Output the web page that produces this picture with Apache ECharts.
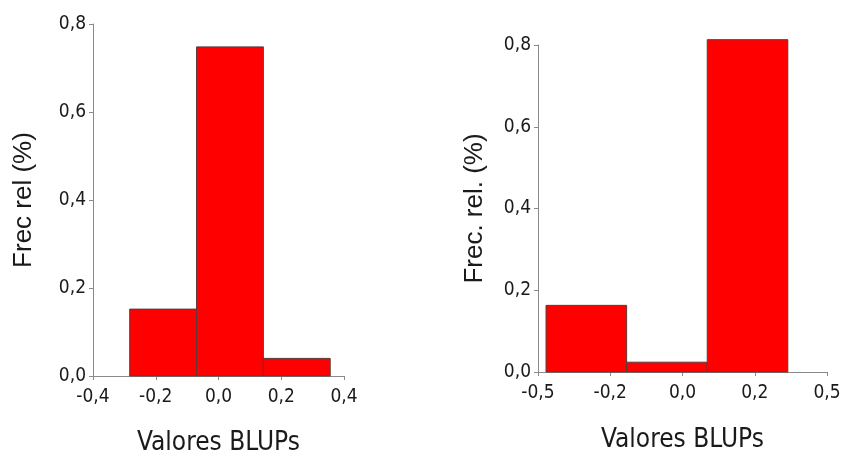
<!DOCTYPE html>
<html>
<head>
<meta charset="utf-8">
<script src="https://cdn.jsdelivr.net/npm/echarts@6/dist/echarts.min.js"></script>
<style>
  html, body { margin: 0; padding: 0; background: #fff; }
  #chart { width: 842px; height: 454px; }
</style>
</head>
<body>
<div id="chart"></div>
<script>
// Histogram of BLUP values: bin edges and relative frequency per bin
const leftBinEdges = [-0.283, -0.070, 0.143, 0.356];
const leftFreq = [0.152, 0.748, 0.040];
const rightBinEdges = [-0.425, -0.174, 0.077, 0.328];
const rightFreq = [0.163, 0.024, 0.813];

// Axis tick labels
const leftXLabels = ['-0,4', '-0,2', '0,0', '0,2', '0,4'];
const rightXLabels = ['-0,5', '-0,2', '0,0', '0,2', '0,5'];
const yLabels = ['0,0', '0,2', '0,4', '0,6', '0,8'];

const xTitle = 'Valores BLUPs';
const leftYTitle = 'Frec rel (%)';
const rightYTitle = 'Frec. rel. (%)';

function bins(edges, freq) {
  return freq.map((f, i) => [edges[i], edges[i + 1], f]);
}

const narrow = '"Liberation Sans Narrow", "Arial Narrow", "DejaVu Sans Condensed", sans-serif';
const regular = '"Liberation Sans", Arial, sans-serif';
const textColor = '#1a1a1a';
const axisGray = '#8a8a8a';

function renderBin(params, api) {
  const topLeft = api.coord([api.value(0), api.value(2)]);
  const bottomRight = api.coord([api.value(1), 0]);
  return {
    type: 'rect',
    shape: {
      x: topLeft[0],
      y: topLeft[1],
      width: bottomRight[0] - topLeft[0],
      height: bottomRight[1] - topLeft[1]
    },
    style: { fill: '#ff0000', stroke: '#5a3a3a', lineWidth: 1 }
  };
}

function xAxis(gridIndex, min, max, interval, labels, gap) {
  return {
    type: 'value', gridIndex, min, max, interval,
    name: xTitle, nameLocation: 'middle', nameGap: gap,
    nameTextStyle: { fontFamily: narrow, fontSize: 26, color: textColor },
    axisLine: { show: true, onZero: false, lineStyle: { color: axisGray, width: 1 } },
    axisTick: { show: true, length: 4, lineStyle: { color: axisGray } },
    axisLabel: {
      margin: 12, fontFamily: narrow, fontSize: 19, color: textColor,
      formatter: (v, i) => labels[i]
    },
    splitLine: { show: false }
  };
}

function yAxis(gridIndex, title, gap) {
  return {
    type: 'value', gridIndex, min: 0, max: 0.8, interval: 0.2,
    name: title, nameLocation: 'middle', nameGap: gap, nameRotate: 90,
    nameTextStyle: { fontFamily: regular, fontSize: 26, color: textColor },
    axisLine: { show: true, onZero: false, lineStyle: { color: axisGray, width: 1 } },
    axisTick: { show: true, length: 4, lineStyle: { color: axisGray } },
    axisLabel: {
      margin: 7, fontFamily: narrow, fontSize: 19, color: textColor,
      formatter: (v, i) => yLabels[i]
    },
    splitLine: { show: false }
  };
}

const chart = echarts.init(document.getElementById('chart'), null, { renderer: 'canvas' });
chart.setOption({
  animation: false,
  backgroundColor: '#ffffff',
  grid: [
    { left: 93, top: 24, width: 251, height: 352, containLabel: false, outerBoundsMode: 'none' },
    { left: 538, top: 45, width: 289, height: 327, containLabel: false, outerBoundsMode: 'none' }
  ],
  xAxis: [
    xAxis(0, -0.4, 0.4, 0.2, leftXLabels, 54),
    xAxis(1, -0.45, 0.45, 0.225, rightXLabels, 55)
  ],
  yAxis: [
    yAxis(0, leftYTitle, 56),
    yAxis(1, rightYTitle, 50)
  ],
  series: [
    {
      type: 'custom', xAxisIndex: 0, yAxisIndex: 0,
      renderItem: renderBin,
      encode: { x: [0, 1], y: 2 },
      data: bins(leftBinEdges, leftFreq)
    },
    {
      type: 'custom', xAxisIndex: 1, yAxisIndex: 1,
      renderItem: renderBin,
      encode: { x: [0, 1], y: 2 },
      data: bins(rightBinEdges, rightFreq)
    }
  ]
});
</script>
</body>
</html>
